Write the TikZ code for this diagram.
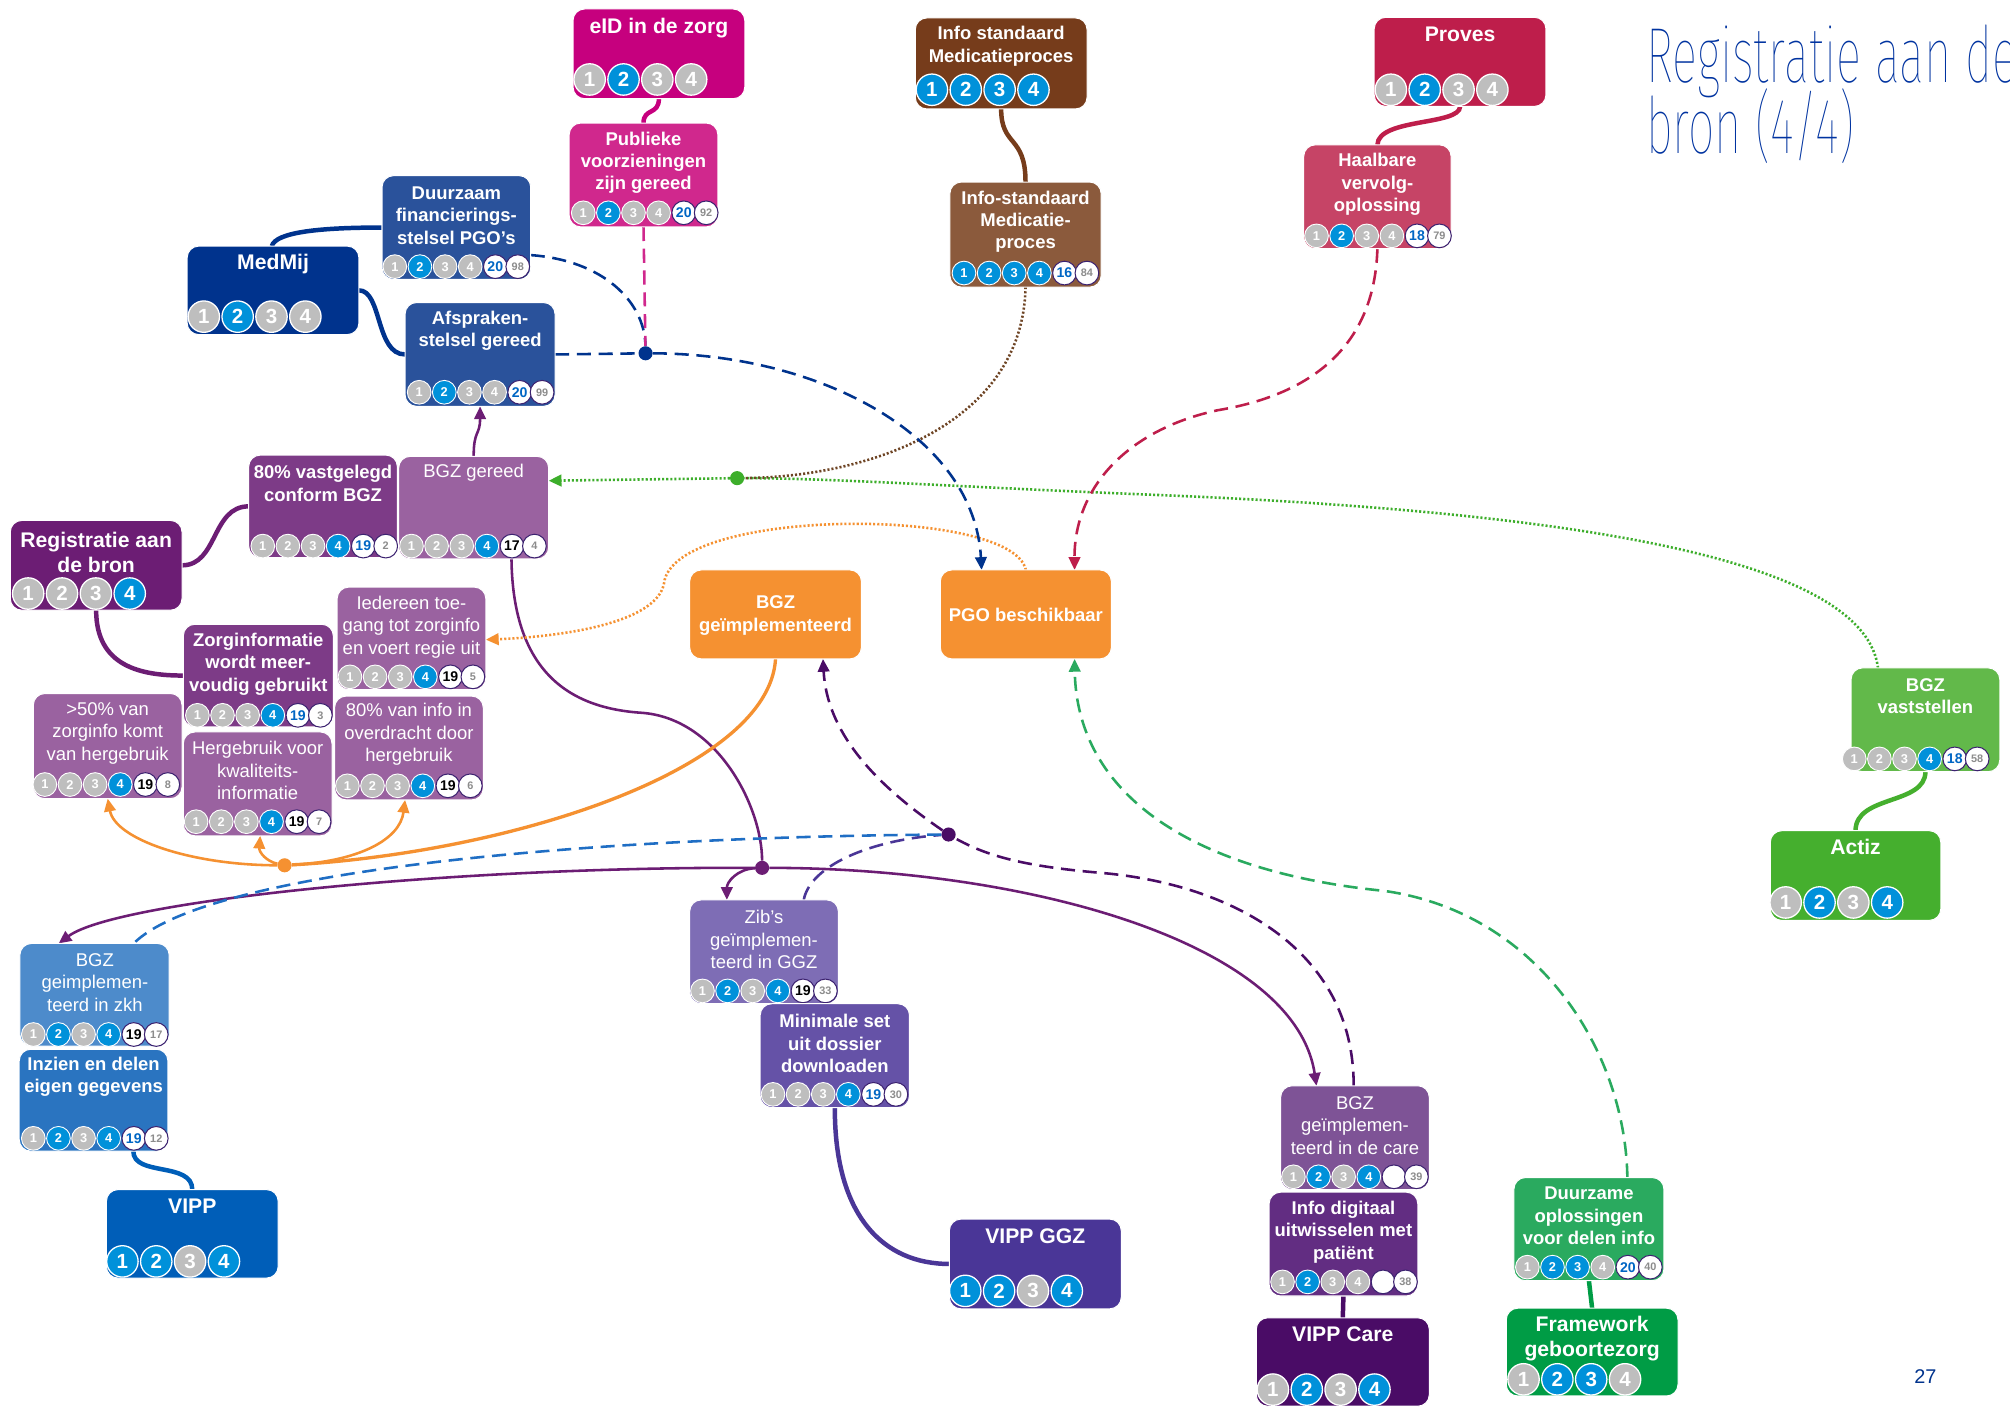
\documentclass[tikz,border=0pt]{standalone}
\usepackage{fontspec}
\setmainfont{Liberation Sans}
\IfFontExistsTF{Fira Sans Thin}{\newfontfamily\titlefont[FakeStretch=0.6]{Fira Sans Thin}}{\IfFontExistsTF{Fira Sans Light}{\newfontfamily\titlefont[FakeStretch=0.6]{Fira Sans Light}}{\newfontfamily\titlefont[FakeStretch=0.6]{Liberation Sans}}}
\usetikzlibrary{arrows.meta,backgrounds}
\definecolor{cgray}{HTML}{BEBEBE}
\definecolor{cblue}{HTML}{0091DA}
\definecolor{cring}{HTML}{3C2270}
\definecolor{cnum}{HTML}{0066C4}
\definecolor{csix}{HTML}{8C8C8C}
\definecolor{cMed}{HTML}{00338D}
\definecolor{cPgo}{HTML}{2A529B}
\definecolor{cEid}{HTML}{C6007E}
\definecolor{cPub}{HTML}{D0288D}
\definecolor{cBr}{HTML}{763C1B}
\definecolor{cBr2}{HTML}{8B5A3C}
\definecolor{cPro}{HTML}{BE1E4B}
\definecolor{cHaal}{HTML}{C64466}
\definecolor{cReg}{HTML}{6C1D74}
\definecolor{cMid}{HTML}{7D3B87}
\definecolor{cLt}{HTML}{9A62A0}
\definecolor{cOr}{HTML}{F59131}
\definecolor{cGv}{HTML}{62B94A}
\definecolor{cAct}{HTML}{45AF2E}
\definecolor{cZkh}{HTML}{4D8BCB}
\definecolor{cInz}{HTML}{2A74C0}
\definecolor{cVipp}{HTML}{005EB8}
\definecolor{cZib}{HTML}{7E6DB5}
\definecolor{cMin}{HTML}{6552A7}
\definecolor{cGgz}{HTML}{4A3697}
\definecolor{cCare}{HTML}{7E5396}
\definecolor{cDig}{HTML}{622D82}
\definecolor{cVc}{HTML}{4A0C66}
\definecolor{cDzm}{HTML}{2AAA5F}
\definecolor{cFw}{HTML}{009C45}
\definecolor{cTitle}{HTML}{0033A0}
\definecolor{cDash}{HTML}{1F6EC4}
\definecolor{cGdot}{HTML}{3DAE2B}
\definecolor{cBdot}{HTML}{6E4424}
\tikzset{
 nbox/.style={draw=white, line width=0.8pt, rounded corners=9pt, inner sep=0pt, outer sep=0pt},
 tb/.style={text=white, font=\bfseries\fontsize{14.4}{17.5}\selectfont, align=center, inner sep=0pt},
 tr/.style={text=white, font=\fontsize{14.4}{17.5}\selectfont, align=center, inner sep=0pt},
 tg/.style={text=white, font=\bfseries\fontsize{16.5}{19.5}\selectfont, align=center, inner sep=0pt},
 bigc/.style={circle, draw=white, line width=1pt, minimum size=24.5pt, inner sep=0pt, text=white, font=\bfseries\fontsize{16}{16}\selectfont},
 smc/.style={circle, draw=white, line width=0.7pt, minimum size=18.5pt, inner sep=0pt, text=white, font=\bfseries\fontsize{10}{10}\selectfont},
 smw/.style={circle, fill=white, draw=cring, line width=0.8pt, minimum size=18.5pt, inner sep=0pt, font=\bfseries\fontsize{11}{11}\selectfont},
 sm6/.style={smw, text=csix, font=\bfseries\fontsize{8.5}{8.5}\selectfont},
 jdot/.style={circle, minimum size=11pt, inner sep=0pt},
 lk/.style={line width=3.5pt},
 pl/.style={draw=cReg, line width=2pt},
 arw/.style={-{Triangle[length=10pt,width=9pt]}},
 dsh/.style={line width=2pt, dash pattern=on 11pt off 6pt},
 dtt/.style={line width=2pt, dash pattern=on 1.6pt off 1.6pt},
}
\newcommand\bx[6]{\node[nbox, fill=#6, minimum width={#4-#2}, minimum height={#5-#3}] (#1) at ({(#2+#4)/2},{(#3+#5)/2}) {};}
\newcommand\bigrow[4]{\foreach \cc [count=\i] in {#4}{\node[bigc, fill=\cc] (#1-c\i) at ({#2+(\i-1)*26.4},#3) {\i};}}
\newcommand\smrow[7]{\foreach \cc [count=\i] in {#4}{\node[smc, fill=\cc] (#1-c\i) at ({#2+(\i-1)*19.6},#3) {\i};}%
 \node[smw, text=#6] (#1-c5) at ({#2+78.4},#3) {#5};%
 \node[sm6] (#1-c6) at ({#2+95.9},#3) {#7};}
\begin{document}
\begin{tikzpicture}[x=1pt,y=-1pt]
\useasboundingbox (0,0) rectangle (1568,1098.3);
% ---------- boxes ----------
\bx{medmij}{146}{192}{280}{261}{cMed}
\node[tg] (medmij-t) at (213,206) {MedMij};
\bigrow{medmij}{159}{247}{cgray,cblue,cgray,cgray}

\bx{duurz}{298}{137}{414}{218}{cPgo}
\node[tb] (duurz-t) at (356,168) {Duurzaam\\financierings-\\stelsel PGO's};
\smrow{duurz}{308}{208}{cgray,cblue,cgray,cgray}{20}{cnum}{98}

\bx{afspr}{316}{236}{433}{317}{cPgo}
\node[tb] (afspr-t) at (374.5,258) {Afspraken-\\stelsel gereed};
\smrow{afspr}{327}{306}{cgray,cblue,cgray,cgray}{20}{cnum}{99}

\bx{eid}{447}{7}{581}{77}{cEid}
\node[tg] (eid-t) at (514,22) {eID in de zorg};
\bigrow{eid}{460}{62}{cgray,cblue,cgray,cgray}

\bx{publ}{444}{96}{560}{177}{cPub}
\node[tb] (publ-t) at (502,127) {Publieke\\voorzieningen\\zijn gereed};
\smrow{publ}{455}{166}{cgray,cblue,cgray,cgray}{20}{cnum}{92}

\bx{infostd}{714}{14}{848}{85}{cBr}
\node[tb] (infostd-t) at (781,36) {Info standaard\\Medicatieproces};
\bigrow{infostd}{727}{70}{cblue,cblue,cblue,cblue}

\bx{infostd2}{741}{142}{859}{224}{cBr2}
\node[tb] (infostd2-t) at (800,173) {Info-standaard\\Medicatie-\\proces};
\smrow{infostd2}{752}{213}{cblue,cblue,cblue,cblue}{16}{cnum}{84}

\bx{proves}{1072}{13.5}{1206}{83}{cPro}
\node[tg] (proves-t) at (1139,27) {Proves};
\bigrow{proves}{1085}{70}{cgray,cblue,cgray,cgray}

\bx{haalb}{1017}{113}{1132}{194}{cHaal}
\node[tb] (haalb-t) at (1074.5,144) {Haalbare\\vervolg-\\oplossing};
\smrow{haalb}{1027}{184}{cgray,cblue,cgray,cgray}{18}{cnum}{79}

\bx{regbron}{8}{406}{142}{476}{cReg}
\node[tg] (regbron-t) at (75,431) {Registratie aan\\de bron};
\bigrow{regbron}{22}{463}{cgray,cgray,cgray,cblue}

\bx{vastg}{194}{355}{310}{435}{cMid}
\node[tb] (vastg-t) at (252,377) {80\% vastgelegd\\conform BGZ};
\smrow{vastg}{205}{426}{cgray,cgray,cgray,cblue}{19}{cnum}{2}

\bx{bgzger}{311}{356}{428}{436}{cLt}
\node[tr] (bgzger-t) at (369.5,369) {BGZ gereed};
\smrow{bgzger}{321}{426}{cgray,cgray,cgray,cblue}{17}{black}{4}

\bx{ieder}{263}{458}{379}{538}{cLt}
\node[tr] (ieder-t) at (321,489) {Iedereen toe-\\gang tot zorginfo\\en voert regie uit};
\smrow{ieder}{273}{528}{cgray,cgray,cgray,cblue}{19}{black}{5}

\bx{zorgi}{143}{487}{260}{567}{cMid}
\node[tb] (zorgi-t) at (201.5,518) {Zorginformatie\\wordt meer-\\voudig gebruikt};
\smrow{zorgi}{154}{558}{cgray,cgray,cgray,cblue}{19}{cnum}{3}

\bx{meer50}{26}{541}{142}{623}{cLt}
\node[tr] (meer50-t) at (84,572) {>50\% van\\zorginfo komt\\van hergebruik};
\smrow{meer50}{35}{612}{cgray,cgray,cgray,cblue}{19}{black}{8}

\bx{hergeb}{143}{571}{259}{652}{cLt}
\node[tr] (hergeb-t) at (201,601) {Hergebruik voor\\kwaliteits-\\informatie};
\smrow{hergeb}{153}{641}{cgray,cgray,cgray,cblue}{19}{black}{7}

\bx{info80}{261}{543}{377}{624}{cLt}
\node[tr] (info80-t) at (319,573) {80\% van info in\\overdracht door\\hergebruik};
\smrow{info80}{271}{613}{cgray,cgray,cgray,cblue}{19}{black}{6}

\bx{bgzimpl}{538}{444.6}{672}{514}{cOr}
\node[tb] (bgzimpl-t) at (605,480) {BGZ\\geïmplementeerd};

\bx{pgo}{733.5}{444.6}{867}{514}{cOr}
\node[tb] (pgo-t) at (800.25,480) {PGO beschikbaar};

\bx{bgzvast}{1444}{521}{1560}{602}{cGv}
\node[tb] (bgzvast-t) at (1502,543) {BGZ\\vaststellen};
\smrow{bgzvast}{1446.5}{592}{cgray,cgray,cgray,cblue}{18}{cnum}{58}

\bx{actiz}{1381}{648}{1514}{718}{cAct}
\node[tg] (actiz-t) at (1447.5,661) {Actiz};
\bigrow{actiz}{1393}{704}{cgray,cblue,cgray,cblue}

\bx{bgzzkh}{15.5}{736}{132}{816}{cZkh}
\node[tr] (bgzzkh-t) at (74,766.5) {BGZ\\geimplemen-\\teerd in zkh};
\smrow{bgzzkh}{26}{807}{cgray,cblue,cgray,cblue}{19}{black}{17}

\bx{inzien}{15}{818.5}{131}{898}{cInz}
\node[tb] (inzien-t) at (73,840) {Inzien en delen\\eigen gegevens};
\smrow{inzien}{26}{888}{cgray,cblue,cgray,cblue}{19}{cnum}{12}

\bx{vipp}{83}{928}{217}{997}{cVipp}
\node[tg] (vipp-t) at (150,941) {VIPP};
\bigrow{vipp}{95.5}{984}{cblue,cblue,cgray,cblue}

\bx{zib}{538}{702}{654}{783}{cZib}
\node[tr] (zib-t) at (596,733) {Zib’s\\geïmplemen-\\teerd in GGZ};
\smrow{zib}{548}{773}{cgray,cblue,cgray,cblue}{19}{black}{33}

\bx{minim}{593}{783}{709.5}{864}{cMin}
\node[tb] (minim-t) at (651.25,814) {Minimale set\\uit dossier\\downloaden};
\smrow{minim}{603}{853.7}{cgray,cgray,cgray,cblue}{19}{cnum}{30}

\bx{vippggz}{740.6}{951}{874.7}{1021}{cGgz}
\node[tg] (vippggz-t) at (807.6,964) {VIPP GGZ};
\bigrow{vippggz}{753}{1007}{cblue,cblue,cgray,cblue}

\bx{bgzcare}{999}{847}{1115}{928}{cCare}
\node[tr] (bgzcare-t) at (1057,878) {BGZ\\geïmplemen-\\teerd in de care};
\smrow{bgzcare}{1009}{918}{cgray,cblue,cgray,cblue}{}{black}{39}

\bx{infodig}{990}{930}{1106}{1011}{cDig}
\node[tb] (infodig-t) at (1048,961) {Info digitaal\\uitwisselen met\\patiënt};
\smrow{infodig}{1000.5}{1000}{cgray,cblue,cgray,cgray}{}{black}{38}

\bx{vippcare}{980}{1028}{1115}{1097}{cVc}
\node[tg] (vippcare-t) at (1047.5,1041) {VIPP Care};
\bigrow{vippcare}{993}{1084}{cgray,cblue,cgray,cblue}

\bx{duurzame}{1181}{918.6}{1298}{999}{cDzm}
\node[tb] (duurzame-t) at (1239.5,948.5) {Duurzame\\oplossingen\\voor delen info};
\smrow{duurzame}{1191.5}{988.5}{cgray,cblue,cblue,cgray}{20}{cnum}{40}

\bx{framew}{1175}{1020.5}{1309}{1089}{cFw}
\node[tg] (framew-t) at (1242,1044) {Framework\\geboortezorg};
\bigrow{framew}{1188.5}{1076}{cgray,cblue,cblue,cgray}

% ---------- title ----------
\node[anchor=base west, inner sep=0pt, text=cTitle, font=\titlefont\fontsize{61}{56}\selectfont] (title1) at (1284,64) {Registratie aan de};
\node[anchor=base west, inner sep=0pt, text=cTitle, font=\titlefont\fontsize{61}{56}\selectfont] (title2) at (1284,120) {bron (4/4)};
\node[text=cMed, inner sep=0pt, font=\fontsize{15.5}{15.5}\selectfont] (pnum) at (1502,1074) {27};

% ---------- junction dots ----------
\node[jdot, fill=cMed] (bdot) at (503.6,275.6) {};
\node[jdot, fill=cGdot] (gdot) at (575,373) {};
\node[jdot, fill=cOr] (odot) at (222,675) {};
\node[jdot, fill=cReg] (zibdot) at (594.5,677) {};
\node[jdot, fill=cVc] (pdot) at (740,651) {};

% ---------- connectors ----------
\begin{pgfonlayer}{background}
\fill[white] (0,0) rectangle (1568,1098.3);
% tree links
\draw[lk, draw=cMed] ([xshift=-1pt]medmij.north) .. controls (215,181) and (250,177.5) .. (duurz.west);
\draw[lk, draw=cMed] (medmij.east) .. controls (298,226.5) and (293,276.5) .. (afspr.west);
\draw[lk, draw=cEid] (eid.south) .. controls (514,90) and (502,84) .. (publ.north);
\draw[lk, draw=cBr] (infostd.south) .. controls (781,115) and (800,105) .. (infostd2.north);
\draw[lk, draw=cPro] (proves.south) .. controls (1139,98) and (1075,92) .. (haalb.north);
\draw[lk, draw=cReg] (regbron.east) .. controls (170,441) and (165,395) .. (vastg.west);
\draw[lk, draw=cReg] (regbron.south) .. controls (75,520) and (110,527) .. (zorgi.west);
\draw[lk, draw=cAct] (bgzvast.south) .. controls (1502,628) and (1447.5,620) .. (actiz.north);
\draw[lk, draw=cVipp] ([xshift=31pt]inzien.south) .. controls (104,918) and (150,906) .. (vipp.north);
\draw[lk, draw=cGgz] (minim.south) .. controls (651,950) and (690,986) .. (vippggz.west);
\draw[lk, draw=cVc] (infodig.south) -- (vippcare.north);
\draw[lk, draw=cFw] (duurzame.south) -- (framew.north);
% purple solid
\draw[pl, arw] (bgzger.north) .. controls (369.5,335) and (374.5,340) .. (afspr.south);
\draw[pl] ([xshift=29.5pt]bgzger.south) .. controls (400,520) and (440,552) .. (500,556) .. controls (560,560) and (594.5,630) .. (zibdot);
\draw[pl, arw] (zibdot) .. controls (575,678) and (567,688) .. ([xshift=-29pt]zib.north);
\draw[pl, arw] (zibdot) .. controls (350,676) and (90,703) .. ([xshift=-28pt]bgzzkh.north);
\draw[pl, arw] (zibdot) .. controls (800,677) and (1010,735) .. ([xshift=-30pt]bgzcare.north);
% orange
\draw[draw=cOr, line width=2.6pt] (bgzimpl.south) .. controls (600,600) and (400,665) .. (odot);
\draw[draw=cOr, line width=2pt, arw] (odot) .. controls (150,675) and (90,655) .. (meer50.south);
\draw[draw=cOr, line width=2pt, arw] (odot) .. controls (208,672) and (202,665) .. ([xshift=2pt]hergeb.south);
\draw[draw=cOr, line width=2pt, arw] (odot) .. controls (280,672) and (312,655) .. ([xshift=-3pt]info80.south);
\draw[draw=cOr, dtt, arw] (pgo.north) .. controls (790,395) and (525,395) .. (518,455) .. controls (512,488) and (430,497) .. ([yshift=-1pt]ieder.east);
% green dotted
\draw[draw=cGdot, dtt] ([xshift=-37pt]bgzvast.north) .. controls (1455,440) and (1250,400) .. (900,386) .. controls (750,380) and (650,373) .. (gdot);
\draw[draw=cGdot, dtt, arw] (gdot) -- ([yshift=21pt]bgzger.east);
% brown dotted
\draw[draw=cBdot, dtt] (infostd2.south) .. controls (798,330) and (680,372) .. (gdot);
% dark blue dashed
\draw[draw=cMed, dsh] ([yshift=-21.5pt]duurz.east) .. controls (470,203) and (503,235) .. (bdot);
\draw[draw=cMed, dsh] (afspr.east) -- (bdot);
\draw[draw=cPub, dsh] (publ.south) -- (bdot);
\draw[draw=cMed, dsh, arw] (bdot) .. controls (640,276) and (760,340) .. ([xshift=-34.5pt]pgo.north);
% crimson dashed
\draw[draw=cPro, dsh, arw] (haalb.south) .. controls (1072,280) and (1010,310) .. (950,320) .. controls (880,335) and (838,380) .. ([xshift=38pt]pgo.north);
% green dashed
\draw[draw=cDzm, dsh, arw] ([xshift=30pt]duurzame.north) .. controls (1268,820) and (1200,712) .. (1080,695) .. controls (930,680) and (840,620) .. ([xshift=38pt]pgo.south);
% dark purple dashed
\draw[draw=cVc, dsh] ([xshift=-1pt]bgzcare.north) .. controls (1056,740) and (960,690) .. (860,681) .. controls (800,676) and (770,668) .. (pdot);
\draw[draw=cVc, dsh, arw] (pdot) .. controls (680,610) and (645,570) .. ([xshift=37pt]bgzimpl.south);
\draw[draw=cGgz, dsh] ([xshift=31pt]zib.north) .. controls (632,675) and (680,655) .. (pdot);
\draw[draw=cDash, dsh] (pdot) .. controls (450,653) and (160,680) .. ([xshift=30.5pt]bgzzkh.north);
\end{pgfonlayer}
\end{tikzpicture}
\end{document}
